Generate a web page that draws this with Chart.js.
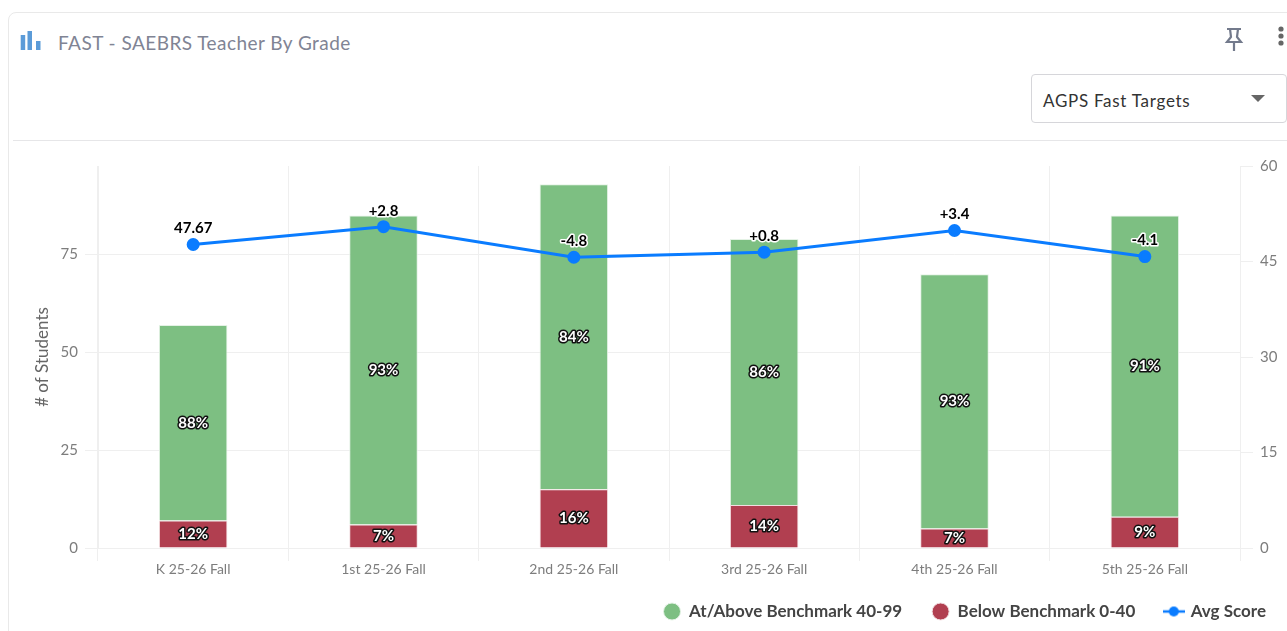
<!DOCTYPE html>
<html>
<head>
<meta charset="utf-8">
<title>FAST - SAEBRS Teacher By Grade</title>
<script src="https://cdn.jsdelivr.net/npm/chart.js@4"></script>
<style>
    html, body { margin: 0; padding: 0; background: #fff; overflow: hidden; }
    body { width: 1287px; height: 631px; position: relative; font-family: Lato, sans-serif; }
    #card { position: absolute; left: 8px; top: 12px; width: 1290px; height: 640px; border: 1px solid #e9e9e9; border-radius: 8px; box-sizing: border-box; }
    #divider { position: absolute; left: 13px; right: 0; top: 140px; height: 1px; background: #e6e6e8; }
    #icon { position: absolute; left: 20px; top: 31px; }
    #title { position: absolute; left: 58px; top: 31px; font-size: 19px; line-height: 24px; color: #808494; letter-spacing: 0.45px; }
    #pin { position: absolute; left: 1224px; top: 27px; }
    #dots { position: absolute; left: 1277px; top: 26px; }
    #select { position: absolute; left: 1031px; top: 74px; width: 256px; height: 49px; border: 1px solid #d6d6da; border-radius: 4px; box-sizing: border-box; font-size: 17px; line-height: 52px; color: #333; padding-left: 11px; letter-spacing: 0.72px; }
    #caret { position: absolute; left: 1251px; top: 95px; width: 0; height: 0; border-left: 7px solid transparent; border-right: 7px solid transparent; border-top: 7px solid #666; }
    canvas { position: absolute; left: 0; top: 0; }
</style>
</head>
<body>
<div id="card"></div>
<div id="divider"></div>
<svg id="icon" width="21" height="20" viewBox="0 0 21 20">
    <rect x="0.7" y="4" width="4.5" height="15" fill="#5b9bd8"/>
    <rect x="7.5" y="0" width="4.5" height="19" fill="#5b9bd8"/>
    <rect x="16" y="10" width="4.5" height="9" fill="#5b9bd8"/>
</svg>
<div id="title">FAST - SAEBRS Teacher By Grade</div>
<svg id="pin" width="20" height="25" viewBox="0 0 20 25" fill="none" stroke="#737a8c" stroke-width="2.2">
    <path d="M3 2h14M6 2l1 8-4 5h14l-4-5 1-8M10 15v9"/>
</svg>
<svg id="dots" width="8" height="22" viewBox="0 0 8 22" fill="#666">
    <circle cx="4" cy="3" r="2.6"/><circle cx="4" cy="10" r="2.6"/><circle cx="4" cy="17" r="2.6"/>
</svg>
<div id="select">AGPS Fast Targets</div>
<div id="caret"></div>
<canvas id="chart" width="1287" height="631"></canvas>

<script>
    let categories = ['K 25-26 Fall', '1st 25-26 Fall', '2nd 25-26 Fall', '3rd 25-26 Fall', '4th 25-26 Fall', '5th 25-26 Fall'];
    let aboveCounts = [50, 79, 78, 68, 65, 77];
    let belowCounts = [7, 6, 15, 11, 5, 8];
    let abovePct = ['88%', '93%', '84%', '86%', '93%', '91%'];
    let belowPct = ['12%', '7%', '16%', '14%', '7%', '9%'];
    let avgScores = [47.67, 50.47, 45.67, 46.47, 49.87, 45.77];
    let avgLabels = ['47.67', '+2.8', '-4.8', '+0.8', '+3.4', '-4.1'];
    let leftTicks = [0, 25, 50, 75];
    let rightTicks = [0, 15, 30, 45, 60];
    let legendOrder = ['At/Above Benchmark 40-99', 'Below Benchmark 0-40', 'Avg Score'];

    const fontName = 'Lato, sans-serif';

    // line + dot swatch for the legend
    function lineSwatch() {
        let c = document.createElement('canvas');
        c.width = 22;
        c.height = 12;
        let ctx = c.getContext('2d');
        ctx.strokeStyle = '#0a7cff';
        ctx.lineWidth = 2.5;
        ctx.beginPath();
        ctx.moveTo(0, 6);
        ctx.lineTo(22, 6);
        ctx.stroke();
        ctx.fillStyle = '#0a7cff';
        ctx.beginPath();
        ctx.arc(11, 6, 5, 0, Math.PI * 2);
        ctx.fill();
        return c;
    }

    function outlined(ctx, text, x, y, fill, stroke, width) {
        ctx.lineJoin = 'round';
        ctx.lineWidth = width;
        ctx.strokeStyle = stroke;
        ctx.strokeText(text, x, y);
        ctx.fillStyle = fill;
        ctx.fillText(text, x, y);
    }

    // percent labels in the bars, score labels over the line
    const labelPlugin = {
        id: 'labelPlugin',
        afterLayout(chart) {
            // x axis box is kept short for the legend, stop it clipping its tick labels
            chart.scales.x.bottom += 12;
        },
        afterDatasetsDraw(chart) {
            let ctx = chart.ctx;
            ctx.save();
            ctx.textAlign = 'center';
            ctx.textBaseline = 'middle';
            ctx.font = 'bold 15px ' + fontName;
            [[0, belowPct], [1, abovePct]].forEach(function(pair) {
                chart.getDatasetMeta(pair[0]).data.forEach(function(bar, i) {
                    outlined(ctx, pair[1][i], bar.x, (bar.y + bar.base) / 2, '#fff', '#111', 3);
                });
            });
            chart.getDatasetMeta(2).data.forEach(function(pt, i) {
                outlined(ctx, avgLabels[i], pt.x, pt.y - 16, '#000', '#fff', 3);
            });
            ctx.restore();
        }
    };

    new Chart(document.getElementById('chart'), {
        data: {
            labels: categories,
            datasets: [
                {
                    type: 'bar',
                    label: 'Below Benchmark 0-40',
                    data: belowCounts,
                    backgroundColor: '#b13f50',
                    borderColor: '#f2dde0',
                    borderWidth: 1,
                    stack: 'students',
                    yAxisID: 'y',
                    order: 2
                },
                {
                    type: 'bar',
                    label: 'At/Above Benchmark 40-99',
                    data: aboveCounts,
                    backgroundColor: '#7dbf82',
                    borderColor: '#e4f2e5',
                    borderWidth: 1,
                    stack: 'students',
                    yAxisID: 'y',
                    order: 2
                },
                {
                    type: 'line',
                    label: 'Avg Score',
                    data: avgScores,
                    borderColor: '#0a7cff',
                    backgroundColor: '#0a7cff',
                    borderWidth: 3,
                    pointRadius: 5,
                    pointStyle: 'circle',
                    tension: 0,
                    yAxisID: 'y1',
                    order: 1
                }
            ]
        },
        options: {
            responsive: false,
            animation: false,
            layout: { padding: { top: 166, left: 32, right: -9, bottom: 1 } },
            datasets: { bar: { barPercentage: 0.36, categoryPercentage: 1 } },
            plugins: {
                tooltip: { enabled: false },
                title: { display: false },
                legend: {
                    position: 'bottom',
                    align: 'end',
                    labels: {
                        usePointStyle: true,
                        boxHeight: 12,
                        pointStyleWidth: 17,
                        font: { family: fontName, size: 17, weight: 'bold' },
                        color: '#444',
                        padding: 30,
                        sort: (a, b) => legendOrder.indexOf(a.text) - legendOrder.indexOf(b.text),
                        generateLabels(chart) {
                            let items = Chart.defaults.plugins.legend.labels.generateLabels(chart);
                            items.forEach(function(item) {
                                item.pointStyle = item.text === 'Avg Score' ? lineSwatch() : 'circle';
                            });
                            return items;
                        }
                    }
                }
            },
            scales: {
                x: {
                    stacked: true,
                    afterFit(axis) { axis.height = 25; },
                    grid: { color: '#efefef', tickLength: 13, lineWidth: 1 },
                    border: { color: '#efefef' },
                    ticks: { color: '#7d7d7d', font: { family: fontName, size: 14 }, maxRotation: 0, padding: 0 }
                },
                y: {
                    stacked: true,
                    position: 'left',
                    min: 0,
                    max: 97.65,
                    afterBuildTicks(axis) { axis.ticks = leftTicks.map(v => ({ value: v })); },
                    afterFit(axis) { axis.width = 66; },
                    title: { display: true, text: '# of Students', color: '#666', font: { family: fontName, size: 17 }, padding: 0 },
                    grid: { color: '#efefef', tickLength: 13 },
                    border: { color: '#efefef' },
                    ticks: { color: '#7d7d7d', font: { family: fontName, size: 15 }, padding: 7 }
                },
                y1: {
                    position: 'right',
                    min: 0,
                    max: 60,
                    afterBuildTicks(axis) { axis.ticks = rightTicks.map(v => ({ value: v })); },
                    afterFit(axis) { axis.width = 56; },
                    grid: { drawOnChartArea: false, color: '#efefef', tickLength: 13 },
                    border: { color: '#efefef' },
                    ticks: { color: '#7d7d7d', font: { family: fontName, size: 15 }, padding: 7 }
                }
            }
        },
        plugins: [labelPlugin]
    });
</script>
</body>
</html>
